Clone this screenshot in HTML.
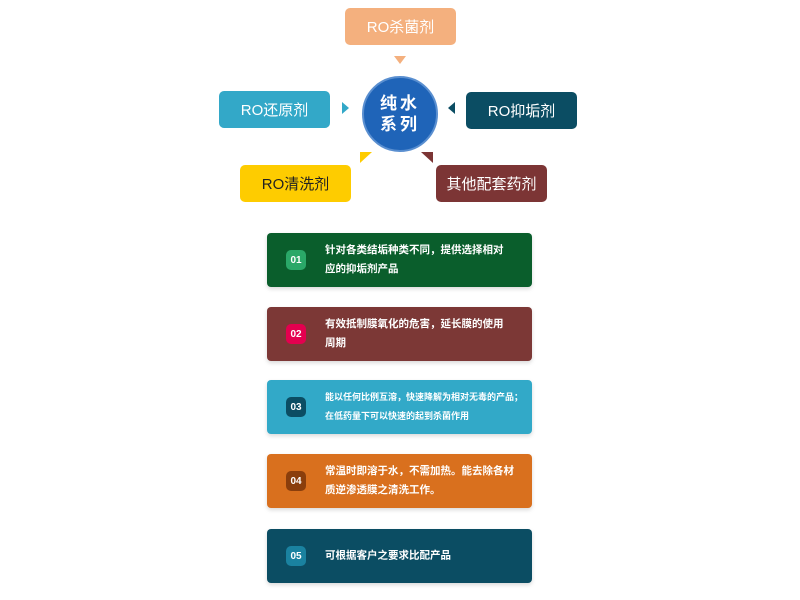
<!DOCTYPE html>
<html><head><meta charset="utf-8"><style>
body{margin:0;width:800px;height:600px;background:#fff;position:relative;font-family:"Liberation Sans","Noto Sans CJK SC",sans-serif;overflow:hidden}
.b{position:absolute;width:111px;height:37px;border-radius:5px;color:#fff;font-size:15px;display:flex;align-items:center;justify-content:center}
.c{position:absolute;left:267px;width:265px;height:54px;border-radius:4px;color:#fff;box-shadow:0 2px 4px rgba(0,0,0,.15)}
.c .n{position:absolute;left:19px;top:17px;width:20px;height:20px;border-radius:5px;font-size:10px;font-weight:bold;display:flex;align-items:center;justify-content:center}
.c .t{position:absolute;left:58px;top:50%;transform:translateY(-50%);font-size:10.5px;font-weight:bold;line-height:19px;width:185px}
.tri{position:absolute;width:0;height:0}
</style></head><body>
<div class="b" style="left:345px;top:8px;background:#f4b07e">RO杀菌剂</div>
<div class="b" style="left:219px;top:91px;background:#33a8c8">RO还原剂</div>
<div class="b" style="left:466px;top:92px;background:#0b4d63">RO抑垢剂</div>
<div class="b" style="left:240px;top:165px;background:#fecc00;color:#222">RO清洗剂</div>
<div class="b" style="left:436px;top:165px;background:#7c3535">其他配套药剂</div>
<div style="position:absolute;left:362px;top:76px;width:72px;height:72px;border-radius:50%;background:#1f64b8;border:2px solid #5a8fd0;color:#fff;font-weight:bold;font-size:17px;line-height:21px;text-align:center;display:flex;align-items:center;justify-content:center;letter-spacing:3px">纯水<br>系列</div>
<div class="tri" style="left:394px;top:56px;border-left:6px solid transparent;border-right:6px solid transparent;border-top:8px solid #f4b07e"></div>
<div class="tri" style="left:342px;top:102px;border-top:6px solid transparent;border-bottom:6px solid transparent;border-left:7px solid #33a8c8"></div>
<div class="tri" style="left:448px;top:102px;border-top:6px solid transparent;border-bottom:6px solid transparent;border-right:7px solid #0b4d63"></div>
<div class="tri" style="left:360px;top:152px;border-left:12px solid #fecc00;border-bottom:11px solid transparent"></div>
<div class="tri" style="left:421px;top:152px;border-right:12px solid #7c3535;border-bottom:11px solid transparent"></div>

<div class="c" style="top:233px;background:#0a5e2c"><div class="n" style="background:#2aa868">01</div><div class="t">针对各类结垢种类不同，提供选择相对应的抑垢剂产品</div></div>
<div class="c" style="top:307px;background:#7c3836"><div class="n" style="background:#e4004f">02</div><div class="t">有效抵制膜氧化的危害，延长膜的使用周期</div></div>
<div class="c" style="top:380px;background:#32a9c8"><div class="n" style="background:#0b4d63">03</div><div class="t" style="font-size:9px;width:200px">能以任何比例互溶，快速降解为相对无毒的产品；在低药量下可以快速的起到杀菌作用</div></div>
<div class="c" style="top:454px;background:#d9701e"><div class="n" style="background:#8a3e0c">04</div><div class="t" style="width:192px">常温时即溶于水，不需加热。能去除各材质逆渗透膜之清洗工作。</div></div>
<div class="c" style="top:529px;background:#0b4d63"><div class="n" style="background:#1a82a0">05</div><div class="t">可根据客户之要求比配产品</div></div>
</body></html>
